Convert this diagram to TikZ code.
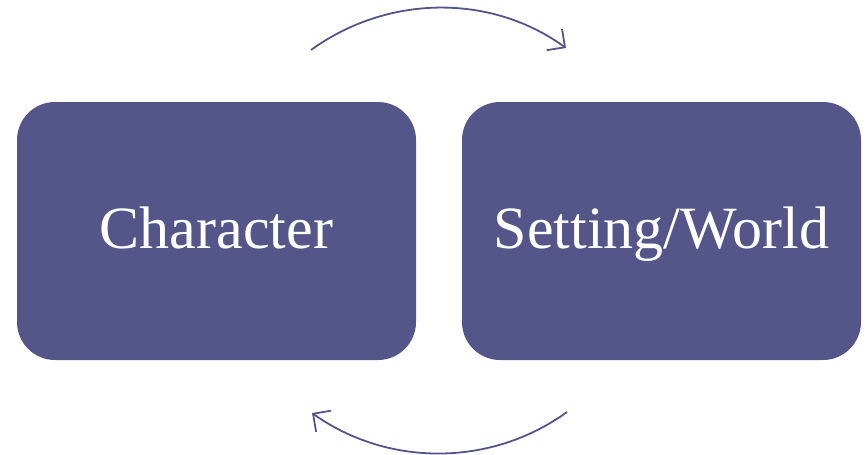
\documentclass[tikz,border=0pt]{standalone}
\usepackage{fontspec}
\setmainfont{Liberation Serif}
\usetikzlibrary{arrows.meta}
\definecolor{boxblue}{HTML}{545588}
\tikzset{
  panel/.style={fill=boxblue, draw=none, rounded corners=38pt, minimum width=399pt,
    minimum height=258pt, inner sep=0pt, text=white, text height=44pt, text depth=10pt,
    font=\fontsize{60}{60}\selectfont},
  cycle/.style={draw=boxblue, line width=1.8pt,
    -{Straight Barb[length=13pt,width=26pt,line width=1.8pt]}}
}
\begin{document}
\begin{tikzpicture}[x=1pt,y=-1pt]
  \useasboundingbox (0,0) rectangle (868,455);
  \node[panel] (char) at (216.5,231) {Character};
  \node[panel] (world) at (661.5,231) {Setting/World};
  % feedback arcs between the two panels
  \coordinate (ts) at (311,50);
  \coordinate (te) at (566,48);
  \coordinate (bs) at (567,412);
  \coordinate (be) at (312,413);
  \draw[cycle] (ts) .. controls (387,-5) and (490,-7) .. (te);
  \draw[cycle] (bs) .. controls (491,467) and (388,467) .. (be);
\end{tikzpicture}
\end{document}
